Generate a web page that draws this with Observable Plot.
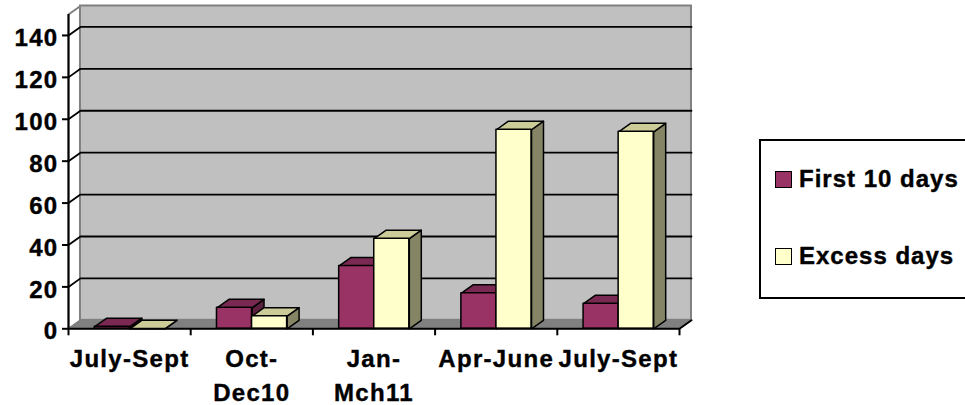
<!DOCTYPE html>
<html><head><meta charset="utf-8">
<script src="https://cdn.jsdelivr.net/npm/d3@7"></script>
<script src="https://cdn.jsdelivr.net/npm/@observablehq/plot@0.6"></script>
<style>
html,body{margin:0;padding:0;background:#fff;overflow:hidden;width:965px;height:405px;}
#wrap{position:relative;width:965px;height:405px;}
#chart svg text{letter-spacing:1.3px;}
#legend{position:absolute;left:759px;top:139px;width:230px;height:156px;border:2px solid #000;background:#fff;font:bold 24px "Liberation Sans",Arial,sans-serif;letter-spacing:1px;color:#000;-webkit-text-stroke:0.4px #000;}
.item{position:absolute;left:14px;height:24px;line-height:24px;display:flex;align-items:center;white-space:nowrap;}
.sw{width:15px;height:15px;border:1.5px solid #000;margin-right:7px;flex:none;}
</style></head>
<body>
<div id="wrap"><div id="chart"></div><div id="legend"></div></div>
<script>
// ---- data ----
const categories = ["July-Sept", "Oct-\nDec10", "Jan-\nMch11", "Apr-June", "July-Sept"];
const first10 = [1, 10, 30, 17, 12];
const excessDays = [0, 6, 43, 95, 94];
const seriesNames = ["First 10 days", "Excess days"];
const yTicks = [0, 20, 40, 60, 80, 100, 120, 140];
const yMax = 150;

// ---- styles ----
const font = '"Liberation Sans", Arial, sans-serif';
const frontColors = ["#993366", "#ffffcc"];
const topColors = ["#7a2952", "#cccc99"];
const sideColors = ["#5c1f3d", "#858565"];
const DX = 0.098;   // depth offset in category units
const DY = 4.06;    // depth offset in value units
const barW = 0.287, barStart = 0.215;
const n = categories.length;

const seriesVals = [first10, excessDays];
const fronts = [[], []], tops = [[], []], sides = [[], []];
seriesVals.forEach((vals, s) => {
  vals.forEach((v, i) => {
    const x0 = i + barStart + s * barW, x1 = x0 + barW, id = s + "-" + i;
    fronts[s].push({x0, x1, v});
    tops[s].push({id, x: x0, y: v}, {id, x: x1, y: v}, {id, x: x1 + DX, y: v + DY}, {id, x: x0 + DX, y: v + DY});
    sides[s].push({id, x: x1, y: 0}, {id, x: x1 + DX, y: DY}, {id, x: x1 + DX, y: v + DY}, {id, x: x1, y: v});
  });
});

const gridPts = [];
yTicks.filter(t => t > 0).forEach(t => {
  gridPts.push({t, x: 0, y: t}, {t, x: DX, y: t + DY}, {t, x: n + DX, y: t + DY});
});

const sideWall = [{x: 0, y: 0}, {x: 0, y: yMax}, {x: DX, y: yMax + DY}, {x: DX, y: DY}];
const floor = [{x: 0, y: 0}, {x: n, y: 0}, {x: n + DX, y: DY}, {x: DX, y: DY}];

const face = (data, fill) => Plot.line(data, {x: "x", y: "y", z: "id", curve: "linear-closed", fill, stroke: "#000", strokeWidth: 1.5, strokeLinejoin: "round"});
const front = (data, fill) => Plot.rect(data, {x1: "x0", x2: "x1", y1: 0, y2: "v", fill, stroke: "#000", strokeWidth: 1.5, strokeLinejoin: "round"});
const txt = {fontSize: 24, fontWeight: "bold", fill: "#000", stroke: "#000", strokeWidth: 0.4};

const marks = [
  Plot.line(sideWall, {x: "x", y: "y", curve: "linear-closed", fill: "#fff", stroke: "#808080", strokeWidth: 2}),
  Plot.rect([0], {x1: DX, x2: n + DX, y1: DY, y2: yMax + DY, fill: "#c0c0c0", stroke: "#808080", strokeWidth: 2}),
  Plot.line(floor, {x: "x", y: "y", curve: "linear-closed", fill: "#808080", stroke: "#808080", strokeWidth: 1}),
  Plot.line(gridPts, {x: "x", y: "y", z: "t", stroke: "#000", strokeWidth: 1.8}),
  face(sides[0], sideColors[0]),
  face(sides[1], sideColors[1]),
  face(tops[0], topColors[0]),
  face(tops[1], topColors[1]),
  front(fronts[0], frontColors[0]),
  front(fronts[1], frontColors[1]),
  Plot.ruleX([0], {y1: 0, y2: yMax, stroke: "#000", strokeWidth: 2}),
  Plot.line([{x: 0, y: 0}, {x: n, y: 0}, {x: n + DX, y: DY}], {x: "x", y: "y", stroke: "#000", strokeWidth: 2}),
  Plot.axisY(yTicks, {anchor: "left", tickSize: 6, tickFormat: () => "", stroke: "#000", strokeWidth: 2, label: null}),
  Plot.axisX(d3.range(n + 1), {anchor: "bottom", tickSize: 7, tickFormat: () => "", stroke: "#000", strokeWidth: 2, label: null}),
  Plot.text(yTicks, {x: 0, y: d => d, text: d => String(d), textAnchor: "end", lineAnchor: "middle", dx: -10, dy: 3, ...txt}),
  Plot.text(categories, {x: (d, i) => i + 0.5, y: 0, text: d => d, textAnchor: "middle", lineAnchor: "top", dy: 14.7, lineHeight: 1.4, ...txt})
];

const chart = Plot.plot({
  width: 965, height: 405,
  marginLeft: 68, marginRight: 286, marginTop: 14, marginBottom: 76.7,
  x: {domain: [0, n], axis: null},
  y: {domain: [0, yMax], axis: null},
  style: {fontFamily: font, background: "transparent", overflow: "visible", color: "#000"},
  marks
});
document.getElementById("chart").appendChild(chart);

// ---- legend ----
const legend = document.getElementById("legend");
const itemTops = [26, 103];
seriesNames.forEach((name, s) => {
  const it = document.createElement("div");
  it.className = "item";
  it.style.top = itemTops[s] + "px";
  const sw = document.createElement("span");
  sw.className = "sw";
  sw.style.background = frontColors[s];
  const tx = document.createElement("span");
  tx.textContent = name;
  it.appendChild(sw); it.appendChild(tx);
  legend.appendChild(it);
});
</script>
</body></html>
